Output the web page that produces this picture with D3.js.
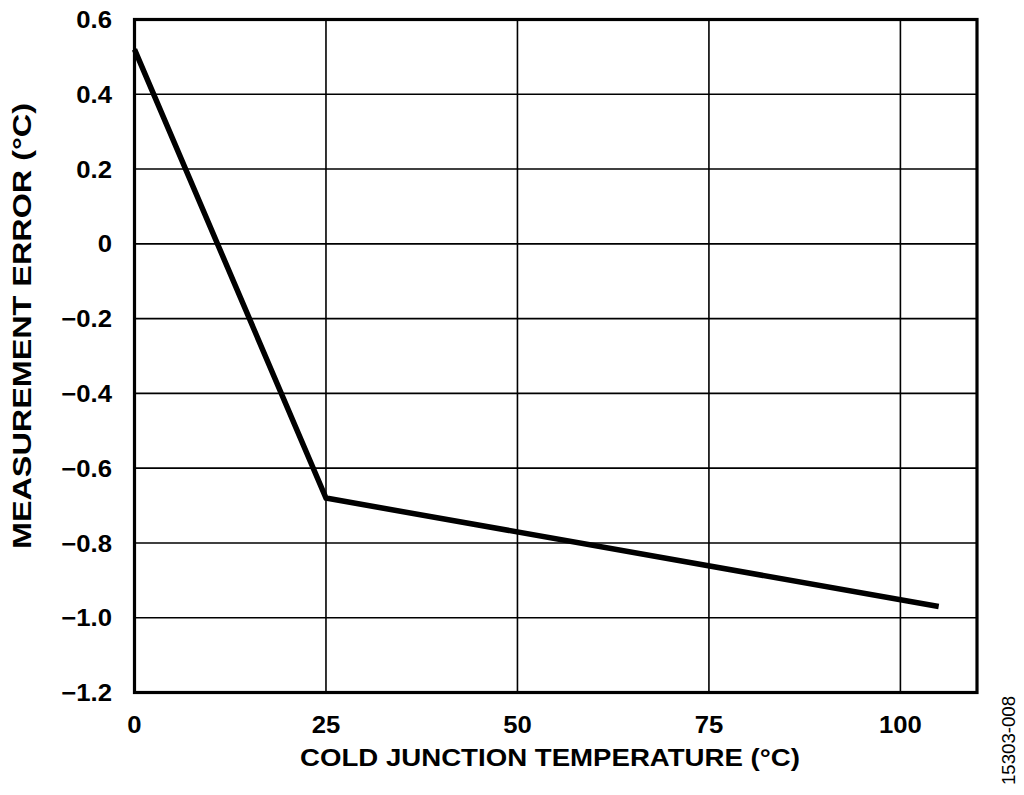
<!DOCTYPE html>
<html>
  <head>
    <script src="https://cdnjs.cloudflare.com/ajax/libs/d3/7.8.5/d3.min.js"></script>
    <style type="text/css">
      body { margin: 0; padding: 0; background: #fff; }
      text { font-family: "Liberation Sans", Arial, sans-serif; fill: #000; }
      .tick-label { font-weight: bold; font-size: 24px; }
      .axis-title { font-weight: bold; font-size: 24px; }
    </style>
  </head>
  <body>
    <div id="chart"></div>
    <script type="text/javascript">
    const temps = [0, 25, 105];
    const errors = [0.52, -0.68, -0.97];
    const xTicks = [0, 25, 50, 75, 100];
    const yTicks = [0.6, 0.4, 0.2, 0, -0.2, -0.4, -0.6, -0.8, -1.0, -1.2];
    const yTickLabels = ['0.6', '0.4', '0.2', '0', '\u22120.2', '\u22120.4', '\u22120.6', '\u22120.8', '\u22121.0', '\u22121.2'];

    const W = 1024, H = 795;
    const plot = {left: 134.5, right: 977, top: 19.5, bottom: 692.5};

    const svg = d3.select('#chart').append('svg')
      .attr('width', W).attr('height', H);

    const x = d3.scaleLinear().domain([0, 110]).range([plot.left, plot.right]);
    const y = d3.scaleLinear().domain([-1.2, 0.6]).range([plot.bottom, plot.top]);

    // grid
    svg.append('g').selectAll('line')
      .data(xTicks.filter(d => d > 0))
      .enter().append('line')
      .attr('x1', d => x(d)).attr('x2', d => x(d))
      .attr('y1', plot.top).attr('y2', plot.bottom)
      .attr('stroke', '#000').attr('stroke-width', 1.6);

    svg.append('g').selectAll('line')
      .data(yTicks.filter(d => d > -1.2 && d < 0.6))
      .enter().append('line')
      .attr('x1', plot.left).attr('x2', plot.right)
      .attr('y1', d => y(d)).attr('y2', d => y(d))
      .attr('stroke', '#000').attr('stroke-width', 1.6);

    // frame
    svg.append('rect')
      .attr('x', plot.left).attr('y', plot.top)
      .attr('width', plot.right - plot.left).attr('height', plot.bottom - plot.top)
      .attr('fill', 'none').attr('stroke', '#000').attr('stroke-width', 3.2);

    // data line
    const pts = temps.map((t, i) => [t, errors[i]]);
    svg.append('path')
      .datum(pts)
      .attr('d', d3.line().x(d => x(d[0])).y(d => y(d[1])))
      .attr('fill', 'none').attr('stroke', '#000')
      .attr('stroke-width', 5.5).attr('stroke-linejoin', 'miter');

    // tick labels (slightly wide glyphs in the original)
    svg.append('g').selectAll('text')
      .data(yTicks)
      .enter().append('text')
      .attr('class', 'tick-label')
      .attr('transform', d => `translate(112,${y(d)}) scale(1.07,1)`)
      .attr('dy', '0.36em')
      .attr('text-anchor', 'end')
      .text((d, i) => yTickLabels[i]);

    svg.append('g').selectAll('text')
      .data(xTicks)
      .enter().append('text')
      .attr('class', 'tick-label')
      .attr('transform', d => `translate(${x(d)},732.5) scale(1.07,1)`)
      .attr('text-anchor', 'middle')
      .text(d => d);

    // axis titles
    svg.append('text')
      .attr('class', 'axis-title')
      .attr('x', 300)
      .attr('y', 766)
      .attr('textLength', 500)
      .attr('lengthAdjust', 'spacingAndGlyphs')
      .text('COLD JUNCTION TEMPERATURE (°C)');

    svg.append('text')
      .attr('class', 'axis-title')
      .attr('transform', 'translate(31,549) rotate(-90)')
      .attr('textLength', 446)
      .attr('lengthAdjust', 'spacingAndGlyphs')
      .style('font-size', '26px')
      .text('MEASUREMENT ERROR (°C)');

    svg.append('text')
      .attr('transform', 'translate(1015,785) rotate(-90)')
      .attr('textLength', 89)
      .attr('lengthAdjust', 'spacingAndGlyphs')
      .style('font-size', '19px')
      .text('15303-008');
    </script>
  </body>
</html>
